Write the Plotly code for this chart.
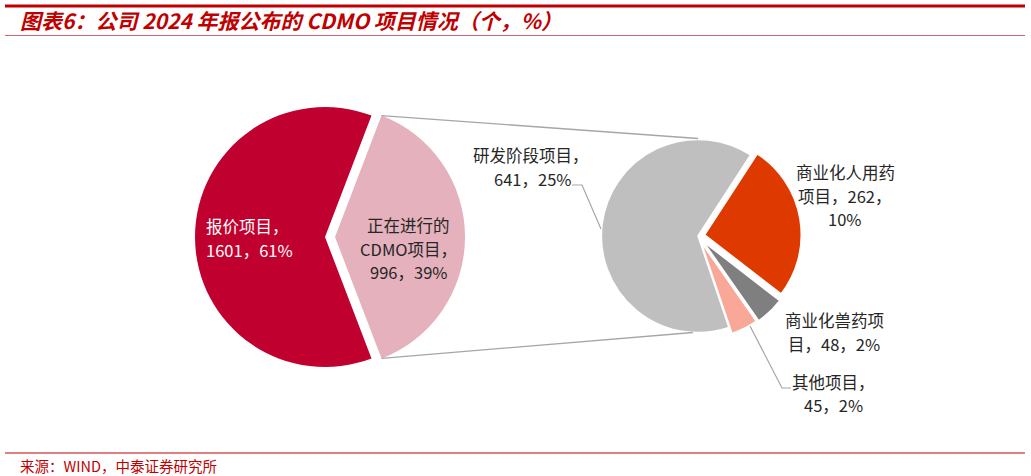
import math
import plotly.graph_objects as go

W, H = 1031, 476

# ---- data ----
main_labels = ["正在进行的CDMO项目", "报价项目"]
main_values = [996, 1601]
main_colors = ["#e4b1bc", "#c0002e"]

sub_labels = ["商业化人用药项目", "商业化兽药项目", "其他项目", "研发阶段项目"]
sub_values = [262, 48, 45, 641]
sub_colors = ["#de3a00", "#7f7f7f", "#f9a898", "#bfbfbf"]
sub_pct = ["10%", "2%", "2%", "25%"]
main_pct = ["39%", "61%"]

title = "图表6：公司 2024 年报公布的 CDMO 项目情况（个，%）"
source = "来源：WIND，中泰证券研究所"


def px(x):
    return x / W


def py(y):
    return 1 - y / H


# geometry (pixels)
c1 = (325, 237); r1 = 130; pull1 = 0.077
c2 = (698, 236); r2 = 97.5; pull2 = 0.07

R1 = r1 * (1 + pull1)
R2 = r2 * (1 + pull2)

share_pink = main_values[0] / sum(main_values)
half_ang = share_pink * 360 / 2

fig = go.Figure()
fig.add_trace(go.Pie(
    labels=main_labels, values=main_values, sort=False, direction="clockwise",
    rotation=90 - half_ang, pull=[pull1, 0],
    marker=dict(colors=main_colors, line=dict(color="white", width=0)),
    textinfo="none", hoverinfo="label+value+percent", showlegend=False,
    domain=dict(x=[px(c1[0] - R1), px(c1[0] + R1)], y=[py(c1[1] + R1), py(c1[1] - R1)]),
))

fig.add_trace(go.Pie(
    labels=sub_labels, values=sub_values, sort=False, direction="clockwise",
    rotation=33, pull=[pull2, pull2 + 0.01, pull2, 0],
    marker=dict(colors=sub_colors, line=dict(color="white", width=1.5)),
    textinfo="none", hoverinfo="label+value", showlegend=False,
    domain=dict(x=[px(c2[0] - R2), px(c2[0] + R2)], y=[py(c2[1] + R2), py(c2[1] - R2)]),
))

shapes = []
# header / footer rules
shapes.append(dict(type="line", xref="paper", yref="paper", x0=px(5), x1=px(1025), y0=py(6), y1=py(6),
                   line=dict(color="#c00000", width=3)))
shapes.append(dict(type="line", xref="paper", yref="paper", x0=px(5), x1=px(1025), y0=py(35.5), y1=py(35.5),
                   line=dict(color="#d66a6a", width=1.2)))
shapes.append(dict(type="line", xref="paper", yref="paper", x0=px(5), x1=px(1025), y0=py(453), y1=py(453),
                   line=dict(color="#c00000", width=1.2)))

# connector lines from exploded slice to the secondary pie
pcx = c1[0] + pull1 * r1
a = math.radians(half_ang)
top_pt = (pcx + r1 * math.cos(a), c1[1] - r1 * math.sin(a))
bot_pt = (pcx + r1 * math.cos(a), c1[1] + r1 * math.sin(a))
shapes.append(dict(type="line", xref="paper", yref="paper",
                   x0=px(top_pt[0]), y0=py(top_pt[1]), x1=px(c2[0]), y1=py(c2[1] - r2),
                   line=dict(color="#a6a6a6", width=1.3)))
shapes.append(dict(type="line", xref="paper", yref="paper",
                   x0=px(bot_pt[0]), y0=py(bot_pt[1]), x1=px(c2[0] - 5), y1=py(c2[1] + r2 - 1),
                   line=dict(color="#a6a6a6", width=1.3)))

# leader lines
shapes.append(dict(type="path", xref="paper", yref="paper",
                   path=f"M {px(572)} {py(185)} L {px(582)} {py(185)} L {px(601)} {py(229)}",
                   line=dict(color="#a6a6a6", width=1.2)))
shapes.append(dict(type="path", xref="paper", yref="paper",
                   path=f"M {px(750)} {py(326)} L {px(782)} {py(388)} L {px(791)} {py(388)}",
                   line=dict(color="#a6a6a6", width=1.2)))

FONT = "Noto Sans CJK SC"
ann = []


def line(text, x, y, color="#262626", anchor="center", size=16.5):
    ann.append(dict(text=text, x=px(x), y=py(y), xref="paper", yref="paper", showarrow=False,
                    xanchor=anchor, yanchor="middle", font=dict(family=FONT, size=size, color=color)))


# main pie labels
line("报价项目，", 204, 226, color="white", anchor="left")
line(f"{main_values[1]}，{main_pct[1]}", 204, 250, color="white", anchor="left")
line("正在进行的", 408, 225)
line("CDMO项目，", 408, 249)
line(f"{main_values[0]}，{main_pct[0]}", 408, 272)

# sub pie labels
line("研发阶段项目，", 531, 155)
line(f"{sub_values[3]}，{sub_pct[3]}", 532, 179)
line("商业化人用药", 845, 172)
line(f"项目，{sub_values[0]}，", 844, 196)
line(sub_pct[0], 845, 219)
line("商业化兽药项", 834, 320)
line(f"目，{sub_values[1]}，{sub_pct[1]}", 834, 344)
line("其他项目，", 833, 382)
line(f"{sub_values[2]}，{sub_pct[2]}", 833, 405)

# title and source
ann.append(dict(text=f"<b><i>{title}</i></b>", x=px(18), y=py(20), xref="paper", yref="paper",
                showarrow=False, xanchor="left", yanchor="middle",
                font=dict(family=FONT, size=21, color="#c00000")))
ann.append(dict(text=source, x=px(18), y=py(465), xref="paper", yref="paper",
                showarrow=False, xanchor="left", yanchor="middle",
                font=dict(family=FONT, size=14.5, color="#c00000")))

fig.update_layout(
    width=W, height=H, margin=dict(l=0, r=0, t=0, b=0),
    paper_bgcolor="white", plot_bgcolor="white",
    shapes=shapes, annotations=ann,
)

fig.write_html("out.html", config={"displayModeBar": False},
               post_script="document.body.style.margin='0';document.body.style.padding='0';")
